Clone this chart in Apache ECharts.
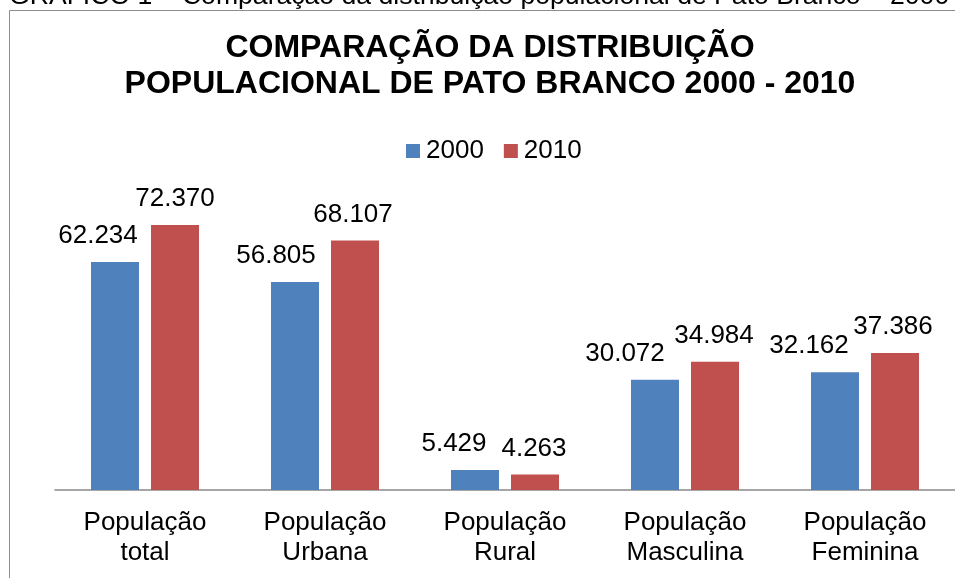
<!DOCTYPE html>
<html>
<head>
<meta charset="utf-8">
<script src="https://cdn.jsdelivr.net/npm/echarts@6/dist/echarts.min.js"></script>
<style>
html,body{margin:0;padding:0;background:#fff;}
#chart{width:955px;height:578px;}
</style>
</head>
<body>
<div id="chart"></div>
<script>
var categories = ['População\ntotal', 'População\nUrbana', 'População\nRural', 'População\nMasculina', 'População\nFeminina'];
var seriesNames = ['2000', '2010'];
var values2000 = [62234, 56805, 5429, 30072, 32162];
var values2010 = [72370, 68107, 4263, 34984, 37386];
var titleLines = ['COMPARAÇÃO DA DISTRIBUIÇÃO', 'POPULACIONAL DE PATO BRANCO 2000 - 2010'];
var captionText = 'GRÁFICO 1 – Comparação da distribuição populacional de Pato Branco – 2000';

// horizontal label shifts (style, not data)
var labelShift2000 = [-17, -19, -21, -30, -26];
var labelShift2010 = [0, -2, -1, -1, -2];

var FONT = '"Liberation Sans", Arial, sans-serif';

function fmt(v) {
  return String(v).replace(/\B(?=(\d{3})+(?!\d))/g, '.');
}
function buildData(vals, shifts) {
  return vals.map(function (v, i) {
    return { value: v, label: { offset: [shifts[i], 0] } };
  });
}

var chart = echarts.init(document.getElementById('chart'), null, { renderer: 'canvas' });
var labelStyle = {
  show: true,
  position: 'top',
  distance: 13,
  color: '#000',
  fontFamily: FONT,
  fontSize: 26,
  lineHeight: 26,
  formatter: function (p) { return fmt(p.value); }
};
chart.setOption({
  animation: false,
  backgroundColor: '#fff',
  color: ['#4F81BD', '#C0504D'],
  graphic: [
    { type: 'rect', shape: { x: 9.5, y: 10.5, width: 1100, height: 700 }, style: { fill: 'none', stroke: '#8c8c8c', lineWidth: 1 }, silent: true, z: -10 },
    { type: 'text', style: { text: captionText, x: 9, y: -3, align: 'left', verticalAlign: 'middle', font: '26.6px ' + FONT, fill: '#000' } },
    { type: 'text', style: { text: titleLines.join('\n'), x: 490, y: 66, align: 'center', verticalAlign: 'middle', font: 'bold 32px ' + FONT, lineHeight: 36, fill: '#000' } }
  ],
  legend: {
    left: 401,
    top: 133,
    itemWidth: 14,
    itemHeight: 14,
    itemGap: 20,
    icon: 'rect',
    textStyle: { fontFamily: FONT, fontSize: 26, color: '#000', padding: [0, 0, 0, 1] },
    data: seriesNames
  },
  grid: { left: 55, right: 0, top: 197, bottom: 88, containLabel: false },
  xAxis: {
    type: 'category',
    data: categories,
    axisLine: { lineStyle: { color: '#898989', width: 1.5 } },
    axisTick: { show: false },
    axisLabel: { interval: 0, margin: 18, color: '#000', fontFamily: FONT, fontSize: 26, lineHeight: 30 }
  },
  yAxis: {
    type: 'value',
    min: 0,
    max: 80000,
    show: false,
    splitLine: { show: false }
  },
  series: [
    { name: seriesNames[0], type: 'bar', barWidth: 48, barGap: '25%', data: buildData(values2000, labelShift2000), label: labelStyle },
    { name: seriesNames[1], type: 'bar', barWidth: 48, barGap: '25%', data: buildData(values2010, labelShift2010), label: labelStyle }
  ]
});
</script>
</body>
</html>
